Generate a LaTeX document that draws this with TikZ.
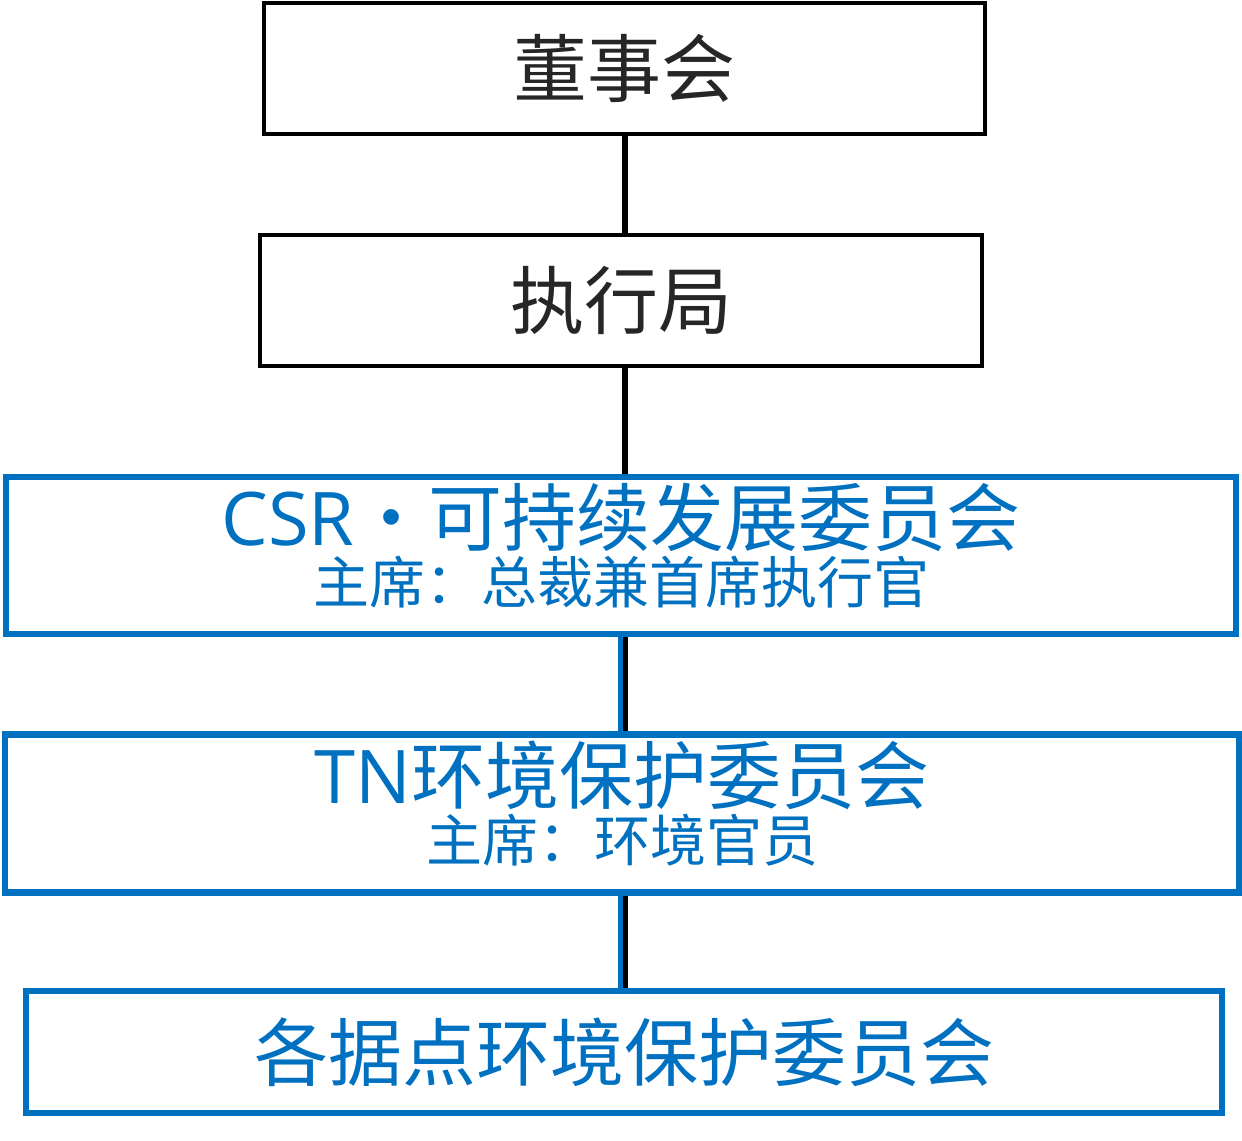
\documentclass[tikz,border=0pt]{standalone}
\usepackage{fontspec}
\newfontfamily\cjk{Noto Sans CJK SC}
\newfontfamily\enfont{Open Sans}
\usepackage{tikz}
\usetikzlibrary{positioning}
\usepackage{xcolor}
\definecolor{orgblue}{RGB}{0,112,192}
\definecolor{orgtext}{RGB}{38,38,38}
\tikzstyle{board} = [rectangle, draw=black, line width=3pt, text=orgtext, align=center, font=\cjk\fontsize{55.5pt}{60pt}\selectfont]
\tikzstyle{committee} = [rectangle, draw=orgblue, line width=5pt, text=orgblue, align=center, font=\cjk\fontsize{42pt}{43pt}\selectfont]
\tikzstyle{link} = [line width=4pt, black]
\tikzstyle{bluelink} = [line width=3.75pt, orgblue]
\newcommand{\ctitle}[1]{{\fontsize{55.5pt}{60pt}\selectfont #1}}

\begin{document}
\begin{tikzpicture}[x=0.75pt, y=-0.75pt]
\useasboundingbox (0,0) rectangle (1242,1141);
% Management
\node (board) [board, minimum width=540.75pt, minimum height=98.25pt] at (624.5,68.5) {董事会};
\node (exec) [board, minimum width=541.5pt, minimum height=98.25pt] at (621,300.5) {执行局};

% Committees
\node (csr) [committee, minimum width=922.5pt, minimum height=117.75pt, text depth=18pt] at (621,555.5) {\ctitle{{\enfont CSR}・可持续发展委员会}\\[0.5pt]主席：总裁兼首席执行官};
\node (tn) [committee, minimum width=925.5pt, minimum height=118.5pt, text depth=18pt] at (622,813.5) {\ctitle{{\enfont TN}环境保护委员会}\\[0.5pt]主席：环境官员};
\node (site) [committee, minimum width=897pt, minimum height=91.5pt] at (624,1052) {\ctitle{各据点环境保护委员会}};

% Lines between levels
\coordinate (spine) at (625,0);
\coordinate (bluespine) at (620.5,0);
\draw[link] (spine |- board.south) -- (spine |- exec.north);
\draw[link] (spine |- exec.south) -- (spine |- csr.north);
\draw[link] (spine |- csr.south) -- (spine |- tn.north);
\draw[bluelink] (bluespine |- csr.south) -- (bluespine |- tn.north);
\draw[link] (spine |- tn.south) -- (spine |- site.north);
\draw[bluelink] (bluespine |- tn.south) -- (bluespine |- site.north);
\end{tikzpicture}
\end{document}
